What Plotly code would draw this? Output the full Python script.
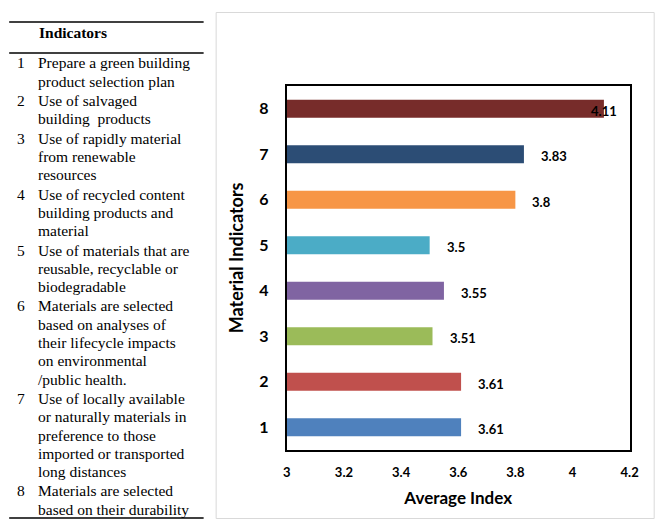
import plotly.graph_objects as go

# ---- data ----
indicator_ids = ["1", "2", "3", "4", "5", "6", "7", "8"]
average_index = [3.61, 3.61, 3.51, 3.55, 3.50, 3.80, 3.83, 4.11]
bar_colors = ["#4F81BD", "#C0504D", "#9BBB59", "#8064A2",
              "#4BACC6", "#F79646", "#2C4D75", "#772C2A"]
indicator_texts = [
    ["Prepare a green building", "product selection plan"],
    ["Use of salvaged", "building  products"],
    ["Use of rapidly material", "from renewable", "resources"],
    ["Use of recycled content", "building products and", "material"],
    ["Use of materials that are", "reusable, recyclable or", "biodegradable"],
    ["Materials are selected", "based on analyses of", "their lifecycle impacts",
     "on environmental", "/public health."],
    ["Use of locally available", "or naturally materials in", "preference to those",
     "imported or transported", "long distances"],
    ["Materials are selected", "based on their durability"],
]
x_ticks = [3, 3.2, 3.4, 3.6, 3.8, 4, 4.2]
x_range = [3, 4.2]
x_title = "Average Index"
y_title = "Material Indicators"
table_header = "Indicators"

# page body has an 8px margin; horizontal compensation for the capture
OFF = 8
SX = 0.978
X0 = 4
W, H = 660, 530 - 2 * OFF
def px(x):
    return ((x - X0) / SX - OFF) / W
def py(y):
    return 1 - (y - OFF) / H

chart_font = "Lato"
table_font = "Liberation Serif"
tsize = 15.5

positions = list(range(len(indicator_ids)))

fig = go.Figure()
fig.add_trace(go.Bar(
    x=[v - x_range[0] for v in average_index], base=x_range[0],
    y=positions, orientation="h",
    marker=dict(color=bar_colors, line=dict(width=0)),
    width=0.4, hoverinfo="skip", showlegend=False,
))

annotations = []
# data labels
for pos, v in zip(positions, average_index):
    label = f"{v:g}"
    near_edge = (v - x_range[0]) / (x_range[1] - x_range[0]) > 0.92
    annotations.append(dict(
        x=v, y=pos, xref="x", yref="y", text=f"<b>{label}</b>", showarrow=False,
        xanchor="center" if near_edge else "left", xshift=0 if near_edge else 15,
        yshift=-2, font=dict(family=chart_font, size=13, color="black"),
    ))

# y-axis title (sits slightly above the plot centre, as in the original)
annotations.append(dict(x=px(235), y=py(257.5), xref="paper", yref="paper",
                        text=f"<b>{y_title}</b>", textangle=-90, showarrow=False,
                        xanchor="center", yanchor="middle",
                        font=dict(family=chart_font, size=18, color="black")))

# left table
annotations.append(dict(x=px(37), y=py(32), xref="paper", yref="paper",
                        text=f"<b>{table_header}</b>", showarrow=False, xanchor="left",
                        yanchor="middle", font=dict(family=table_font, size=tsize, color="black")))
line_h = 18.3
gap = 1.0
y_center = 63.0
for cid, lines in zip(indicator_ids, indicator_texts):
    annotations.append(dict(x=px(20.5), y=py(y_center), xref="paper", yref="paper",
                            text=cid, showarrow=False, xanchor="center", yanchor="middle",
                            font=dict(family=table_font, size=tsize, color="black")))
    for i, ln in enumerate(lines):
        annotations.append(dict(x=px(36), y=py(y_center + i * line_h), xref="paper", yref="paper",
                                text=ln, showarrow=False, xanchor="left", yanchor="middle",
                                font=dict(family=table_font, size=tsize, color="black")))
    y_center += len(lines) * line_h + gap

shapes = [
    dict(type="line", xref="paper", yref="paper", x0=px(9), x1=px(203), y0=py(22), y1=py(22),
         line=dict(color="black", width=1.3)),
    dict(type="line", xref="paper", yref="paper", x0=px(9), x1=px(203), y0=py(53), y1=py(53),
         line=dict(color="black", width=1.3)),
    dict(type="line", xref="paper", yref="paper", x0=px(9), x1=px(203), y0=py(518), y1=py(518),
         line=dict(color="black", width=1.3)),
    dict(type="rect", xref="paper", yref="paper", x0=px(215.5), x1=px(652.5), y0=py(12.5), y1=py(518.5),
         line=dict(color="#D9D9D9", width=1), layer="below"),
]

fig.update_layout(
    width=W, height=H,
    margin=dict(l=0, r=0, t=0, b=0),
    paper_bgcolor="white", plot_bgcolor="white",
    annotations=annotations, shapes=shapes,
    xaxis=dict(domain=[px(286), px(628)], range=x_range, tickvals=x_ticks,
               ticktext=[f"<b>{t:g}</b>" for t in x_ticks],
               showgrid=False, zeroline=False, showline=True, mirror=True,
               linecolor="black", linewidth=2, ticks="", ticklabelstandoff=9,
               tickfont=dict(family=chart_font, size=13, color="black"),
               title=dict(text=f"<b>{x_title}</b>", standoff=14,
                          font=dict(family=chart_font, size=17, color="black"))),
    yaxis=dict(domain=[py(450), py(86)], range=[-0.5, len(positions) - 0.5],
               tickvals=positions,
               ticktext=[f"<b>{c}</b>" for c in indicator_ids],
               showgrid=False, zeroline=False, showline=True, mirror=True,
               linecolor="black", linewidth=2, ticks="", ticklabelstandoff=13,
               tickfont=dict(family=chart_font, size=16, color="black")),
)

fig.write_html("out.html")
